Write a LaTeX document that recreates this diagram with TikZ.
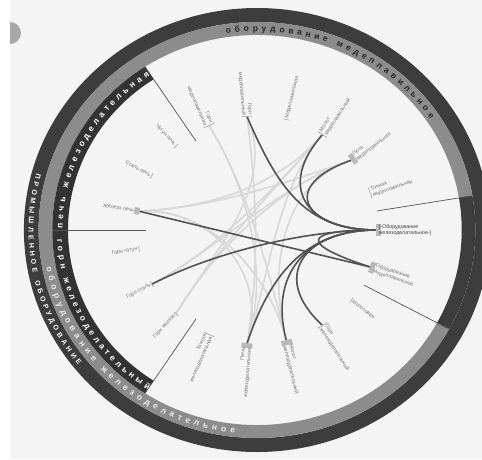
\documentclass[tikz,border=0pt]{standalone}
\usepackage{fontspec}
\setmainfont{Liberation Sans}
\usetikzlibrary{calc, decorations.text}
\definecolor{PageBg}{HTML}{F4F4F4}
\definecolor{RingOuter}{HTML}{3D3D3D}
\definecolor{RingMid}{HTML}{8C8C8C}
\definecolor{RingInner}{HTML}{333333}
\definecolor{LinkDark}{HTML}{525252}
\definecolor{LinkLight}{HTML}{D8D8D8}
\definecolor{LabelGrey}{HTML}{767676}
\definecolor{MarkGrey}{HTML}{B8B8B8}
\definecolor{BulletGrey}{HTML}{A8A8A8}
\tikzset{
  leaflabel/.style={font=\fontsize{5.3}{6.4}\selectfont, text=LabelGrey, inner sep=1pt},
  rlabel/.style={leaflabel, anchor=west, align=left, rotate=#1},
  llabel/.style={leaflabel, anchor=east, align=right, rotate=#1-180},
  tickbar/.style={fill=LabelGrey!80, inner sep=0pt, minimum width=0.5pt, minimum height=#1},
  markbox/.style={fill=MarkGrey, inner sep=0pt, minimum width=5pt, minimum height=#1},
  linkdark/.style={draw=LinkDark, line width=1.6pt},
  linklight/.style={draw=LinkLight, line width=1.6pt},
  divider/.style={draw=LinkDark, line width=0.7pt},
  ringtext/.style={decorate, decoration={text along path, text align={fit to path}, text={#1}}},
}

\begin{document}
\begin{tikzpicture}[x=1.05pt, y=1pt]
  % page
  \useasboundingbox (-257pt,-229pt) rectangle (225pt,230pt);
  \fill[white] (-257pt,-229pt) rectangle (225pt,230pt);
  \fill[PageBg] (-247pt,-229pt) rectangle (225pt,230pt);
  \fill[BulletGrey] (-247pt,197pt) circle[radius=11pt];
  \fill[white] (-257pt,180pt) rectangle (-247pt,215pt);

  % rings
  \fill[RingOuter, even odd rule] (0,0) circle[radius=222] (0,0) circle[radius=208];
  \fill[RingMid] (9.47:208) arc[start angle=9.47, end angle=331.58, radius=208]
    -- (331.58:195) arc[start angle=331.58, end angle=9.47, radius=195] -- cycle;
  \fill[RingOuter] (-28.42:208) arc[start angle=-28.42, end angle=9.47, radius=208]
    -- (9.47:195) arc[start angle=9.47, end angle=-28.42, radius=195] -- cycle;
  \fill[RingInner] (123.16:195) arc[start angle=123.16, end angle=236.84, radius=195]
    -- (236.84:180) arc[start angle=236.84, end angle=123.16, radius=180] -- cycle;

  % ring captions
  \path[ringtext={|\color{white}\bfseries\fontsize{7}{7}\selectfont|ПРОМЫШЛЕННОЕ ОБОРУДОВАНИЕ}]
    (165:217.5) arc[start angle=165, end angle=218.5, radius=217.5];
  \path[ringtext={|\color{black!85}\bfseries\fontsize{8.5}{8.5}\selectfont|оборудование медеплавильное}]
    (98.5:199) arc[start angle=98.5, end angle=34, radius=199];
  \path[ringtext={|\color{white!92!black}\bfseries\fontsize{8.5}{8.5}\selectfont|оборудование железоделательное}]
    (190.5:204) arc[start angle=190.5, end angle=264, radius=204];
  \path[ringtext={|\color{white}\bfseries\fontsize{8.5}{8.5}\selectfont|печь железоделательная}]
    (179.5:185) arc[start angle=179.5, end angle=123.5, radius=185];
  \path[ringtext={|\color{white}\bfseries\fontsize{8.5}{8.5}\selectfont|горн железоделательный}]
    (183:190.5) arc[start angle=183, end angle=237, radius=190.5];

  % group dividers
  \draw[divider] (9.47:116) -- (9.47:206);
  \draw[divider] (331.58:116) -- (331.58:206);
  \draw[divider] (123.16:106) -- (123.16:195);
  \draw[divider] (180:106) -- (180:195);
  \draw[divider] (236.84:106) -- (236.84:195);

  % leaf points and bundle points
  \foreach \nm [count=\k from 0] in {oborZ, tochM, pechM, molotM, medpl, gornMb,
      gornMa, chugP, stalP, zhelP, gornCh, gornSt, gornZh, tochZ, pechZ, molotZ,
      gornZ, molotova, oborM}
    \coordinate (\nm) at ({\k*360/19}:113.5);
  \coordinate (cM) at (66.3:48);
  \coordinate (cP) at (151.6:48);
  \coordinate (cG) at (208.4:48);
  \coordinate (cZ) at (284.2:48);
  \coordinate (cR) at (0:45);
  \coordinate (cQ) at (341:40);

  % faint links
  \draw[linklight] (zhelP) .. controls (cP) and (cM) .. (pechM);
  \draw[linklight] (zhelP) .. controls (cP) and (cM) .. (molotM);
  \draw[linklight] (zhelP) .. controls (cP) and (cZ) .. (pechZ);
  \draw[linklight] (zhelP) .. controls (cP) and (cZ) .. (molotZ);
  \draw[linklight] (gornSt) .. controls (cG) and (cM) .. (pechM);
  \draw[linklight] (gornSt) .. controls (cG) and (cM) .. (molotM);
  \draw[linklight] (gornZh) .. controls (cG) and (cM) .. (pechM);
  \draw[linklight] (gornZh) .. controls (cG) and (cM) .. (gornMb);
  \draw[linklight] (gornZh) .. controls (cG) and (cM) .. (molotM);
  \draw[linklight] (gornMa) .. controls (100:40) and (cZ) .. (molotZ);
  \draw[linklight] (gornMb) .. controls (90:30) and (275:30) .. (pechZ);
  \draw[linklight] (gornMa) .. controls (100:40) and (cZ) .. (pechZ);
  \draw[linklight] (pechM) .. controls (cM) and (cZ) .. (molotZ);
  \draw[linklight] (molotM) .. controls (cM) and (cZ) .. (pechZ);

  % highlighted links
  \draw[linkdark] (zhelP) -- (oborM);
  \draw[linkdark] (oborM) .. controls (cQ) and (cR) .. (oborZ);
  \draw[linkdark] (gornMb) .. controls (cM) and (cR) .. (oborZ);
  \draw[linkdark] (molotM) .. controls (cM) and (cR) .. (oborZ);
  \draw[linkdark] (pechM) .. controls (cM) and (cR) .. (oborZ);
  \draw[linkdark] (pechZ) .. controls (cZ) and (cR) .. (oborZ);
  \draw[linkdark] (molotZ) .. controls (cZ) and (cR) .. (oborZ);
  \draw[linkdark] (gornZ) .. controls (cZ) and (cR) .. (oborZ);
  \draw[linkdark] (gornSt) .. controls (cG) and (cR) .. (oborZ);

  % ticks and marks
  \foreach \k/\h in {1/11pt, 3/11pt, 4/6pt, 5/11pt, 6/11pt, 7/6pt, 8/6pt,
      10/6pt, 11/6pt, 12/6pt, 13/11pt, 16/11pt, 17/6pt}
    \node[tickbar=\h, rotate=\k*360/19] at ({\k*360/19}:114) {};
  \foreach \k/\h in {2/11pt, 9/7pt, 14/11pt, 15/11pt, 18/11pt, 0/12pt}
    \node[markbox=\h, rotate=\k*360/19] at ({\k*360/19}:116) {};

  % leaf labels
  \node[rlabel=18.95] (tochMl) at (18.95:114.5) {Точная\\медеплавильная};
  \node[rlabel=37.89] (pechMl) at (37.89:117.5) {Печь\\медеплавильная};
  \node[rlabel=56.84] (molotMl) at (56.84:114.5) {Молот\\медеплавильный};
  \node[rlabel=75.79] (medpll) at (75.79:114.5) {Медеплавильная};
  \node[llabel=94.74] (gornMbl) at (94.74:114.5) {Горн\\медеплавильный};
  \node[llabel=113.68] (gornMal) at (113.68:114.5) {Горн\\медеплавильная};
  \node[llabel=132.63] (chugPl) at (132.63:114.5) {Чугун печь};
  \node[llabel=151.58] (stalPl) at (151.58:114.5) {Сталь печь};
  \node[llabel=170.53] (zhelPl) at (170.53:117.5) {Железо печь};
  \node[llabel=189.47] (gornChl) at (189.47:114.5) {Горн чугун};
  \node[llabel=208.42] (gornStl) at (208.42:114.5) {Горн сталь};
  \node[llabel=227.37] (gornZhl) at (227.37:114.5) {Горн железо};
  \node[llabel=246.32] (tochZl) at (246.32:114.5) {Точная\\железоделательная};
  \node[llabel=265.26] (pechZl) at (265.26:117.5) {Печь\\железоделательная};
  \node[rlabel=284.21] (molotZl) at (284.21:117.5) {Молот\\железоделательный};
  \node[rlabel=303.16] (gornZl) at (303.16:114.5) {Горн\\железоделательный};
  \node[rlabel=322.11] (molotoval) at (322.11:114.5) {Молотовая};
  \node[rlabel=341.05] (oborMl) at (341.05:117.5) {Оборудование\\медеплавильное};
  \node[rlabel=0, text=black!75] (oborZl) at (0:115) {[-Оборудование\\железоделательное-]};
\end{tikzpicture}
\end{document}
